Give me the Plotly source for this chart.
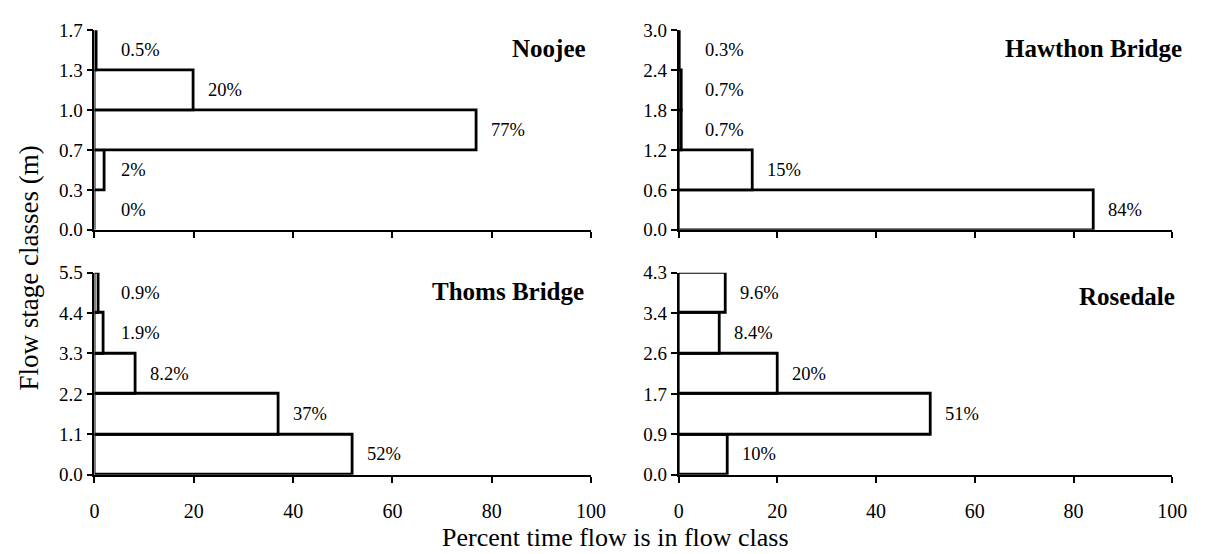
import plotly.graph_objects as go

# ---- data ----
noojee_stage = ["0.0", "0.3", "0.7", "1.0", "1.3", "1.7"]
noojee_pct = [0, 2, 77, 20, 0.5]
noojee_lbl = ["0%", "2%", "77%", "20%", "0.5%"]

hawthon_stage = ["0.0", "0.6", "1.2", "1.8", "2.4", "3.0"]
hawthon_pct = [84, 15, 0.7, 0.7, 0.3]
hawthon_lbl = ["84%", "15%", "0.7%", "0.7%", "0.3%"]

thoms_stage = ["0.0", "1.1", "2.2", "3.3", "4.4", "5.5"]
thoms_pct = [52, 37, 8.2, 1.9, 0.9]
thoms_lbl = ["52%", "37%", "8.2%", "1.9%", "0.9%"]

rosedale_stage = ["0.0", "0.9", "1.7", "2.6", "3.4", "4.3"]
rosedale_pct = [10, 51, 20, 8.4, 9.6]
rosedale_lbl = ["10%", "51%", "20%", "8.4%", "9.6%"]

x_ticks = [0, 20, 40, 60, 80, 100]

panels = [
    ("Noojee", noojee_stage, noojee_pct, noojee_lbl),
    ("Hawthon Bridge", hawthon_stage, hawthon_pct, hawthon_lbl),
    ("Thoms Bridge", thoms_stage, thoms_pct, thoms_lbl),
    ("Rosedale", rosedale_stage, rosedale_pct, rosedale_lbl),
]

W, H = 1205, 554
FONT = "Liberation Serif"

# pixel layout of the four plot areas (left, right, top, bottom)
boxes = [
    (91, 596, 21, 228.5),
    (685, 1187, 21, 228.5),
    (91, 596, 273, 483),
    (685, 1187, 273, 483),
]
title_pos = [(0.994, 0.91), (1.024, 0.91), (0.99, 0.905), (1.01, 0.88)]

fig = go.Figure()
annotations = []
layout = {}

for i, ((name, stages, pct, lbl), (l, r, t, b), (tx, ty)) in enumerate(zip(panels, boxes, title_pos)):
    n = i + 1
    xa = "x" if n == 1 else f"x{n}"
    ya = "y" if n == 1 else f"y{n}"
    centers = [k + 0.5 for k in range(len(pct))]
    fig.add_trace(go.Bar(
        x=pct, y=centers, orientation="h", width=1,
        marker=dict(color="white", line=dict(color="black", width=2.8)),
        xaxis=xa, yaxis=ya, showlegend=False, hoverinfo="x+y",
    ))
    bottom_row = i >= 2
    layout["xaxis" if n == 1 else f"xaxis{n}"] = dict(
        domain=[l / W, r / W], anchor=ya, range=[0, 100],
        tickmode="array", tickvals=x_ticks,
        ticktext=[str(v) for v in x_ticks] if bottom_row else ["" for _ in x_ticks],
        ticks="outside", ticklen=6, tickwidth=1.6, tickcolor="black",
        ticklabelstandoff=11,
        showline=True, linecolor="black", linewidth=1.8,
        showgrid=False, zeroline=False,
        tickfont=dict(family=FONT, size=20, color="black"),
        fixedrange=True,
    )
    layout["yaxis" if n == 1 else f"yaxis{n}"] = dict(
        domain=[1 - b / H, 1 - t / H], anchor=xa, range=[0, len(pct)],
        tickmode="array", tickvals=list(range(len(stages))), ticktext=stages,
        ticks="outside", ticklen=6, tickwidth=1.6, tickcolor="black",
        showline=True, linecolor="black", linewidth=1.8,
        showgrid=False, zeroline=False,
        tickfont=dict(family=FONT, size=19, color="black"),
        fixedrange=True,
    )
    # panel title
    annotations.append(dict(
        text=f"<b>{name}</b>", xref=f"{xa} domain", yref=f"{ya} domain",
        x=tx, y=ty, xanchor="right", yanchor="middle", showarrow=False,
        font=dict(family=FONT, size=25, color="black"),
    ))
    # value labels
    for v, c, s in zip(pct, centers, lbl):
        annotations.append(dict(
            text=s, xref=xa, yref=ya, x=max(v, 2.5) + 2.5, y=c,
            xanchor="left", yanchor="middle", showarrow=False,
            font=dict(family=FONT, size=18.5, color="black"),
        ))

annotations.append(dict(
    text="Percent time flow is in flow class", xref="paper", yref="paper",
    x=621 / W, y=1 - 548 / H, xanchor="center", yanchor="middle", showarrow=False,
    font=dict(family=FONT, size=26, color="black"),
))
annotations.append(dict(
    text="Flow stage classes (m)", xref="paper", yref="paper",
    x=24 / W, y=1 - 268 / H, xanchor="center", yanchor="middle", showarrow=False,
    textangle=-90, font=dict(family=FONT, size=27, color="black"),
))

fig.update_layout(
    width=W, height=H,
    margin=dict(l=0, r=0, t=0, b=0),
    paper_bgcolor="white", plot_bgcolor="white",
    annotations=annotations, bargap=0,
    **layout,
)

fig.write_html("out.html", config={"displayModeBar": False},
               post_script="document.body.style.margin='0px';")
